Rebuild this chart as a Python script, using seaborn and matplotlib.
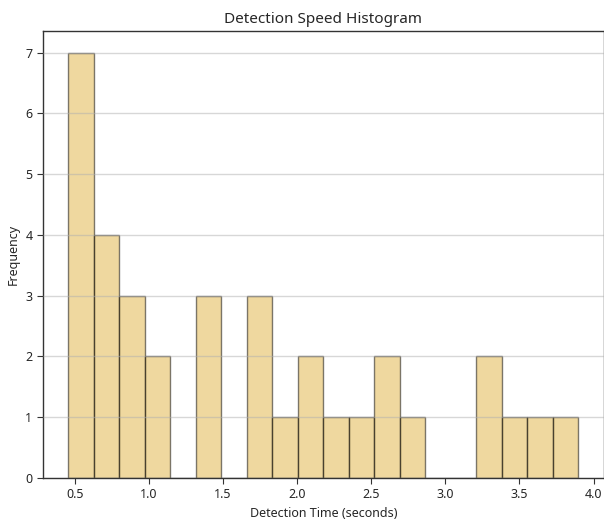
import matplotlib
matplotlib.use("Agg")
import matplotlib.pyplot as plt
import seaborn as sns
import pandas as pd

detection_times = [
    0.457, 0.48, 0.51, 0.54, 0.56, 0.59, 0.61,
    0.66, 0.70, 0.74, 0.78,
    0.83, 0.88, 0.94,
    1.01, 1.09,
    1.34, 1.40, 1.46,
    1.69, 1.75, 1.81,
    1.92,
    2.05, 2.13,
    2.26,
    2.44,
    2.57, 2.65,
    2.78,
    3.25, 3.33,
    3.47,
    3.64,
    3.898,
]
n_bins = 20
title = "Detection Speed Histogram"
xlabel = "Detection Time (seconds)"
ylabel = "Frequency"

df = pd.DataFrame({"time": detection_times})

sns.set_style("white")
plt.rcParams["font.family"] = ["Noto Sans", "DejaVu Sans"]
plt.rcParams["xtick.bottom"] = True
plt.rcParams["ytick.left"] = True

fig = plt.figure(figsize=(6.04, 5.21), dpi=100)
ax = fig.add_axes([0.071, 0.0825, 0.929, 0.8575])

sns.histplot(data=df, x="time", bins=n_bins, ax=ax,
             color=(225/255, 179/255, 65/255), alpha=0.5,
             edgecolor=(0, 0, 0, 0.5), linewidth=1.0)
for p in ax.patches:
    p.set_zorder(1)

ax.yaxis.grid(True, color="#b0b0b0", alpha=0.5, linewidth=1.0, zorder=3)
ax.set_axisbelow(False)
ax.set_title(title, fontsize=11)
ax.set_xlabel(xlabel, fontsize=9)
ax.set_ylabel(ylabel, fontsize=9)
ax.tick_params(labelsize=9, length=4, color="#333333")
for s in ax.spines.values():
    s.set_color("#333333")
    s.set_linewidth(1.0)

fig.savefig("out.png", dpi=100)
